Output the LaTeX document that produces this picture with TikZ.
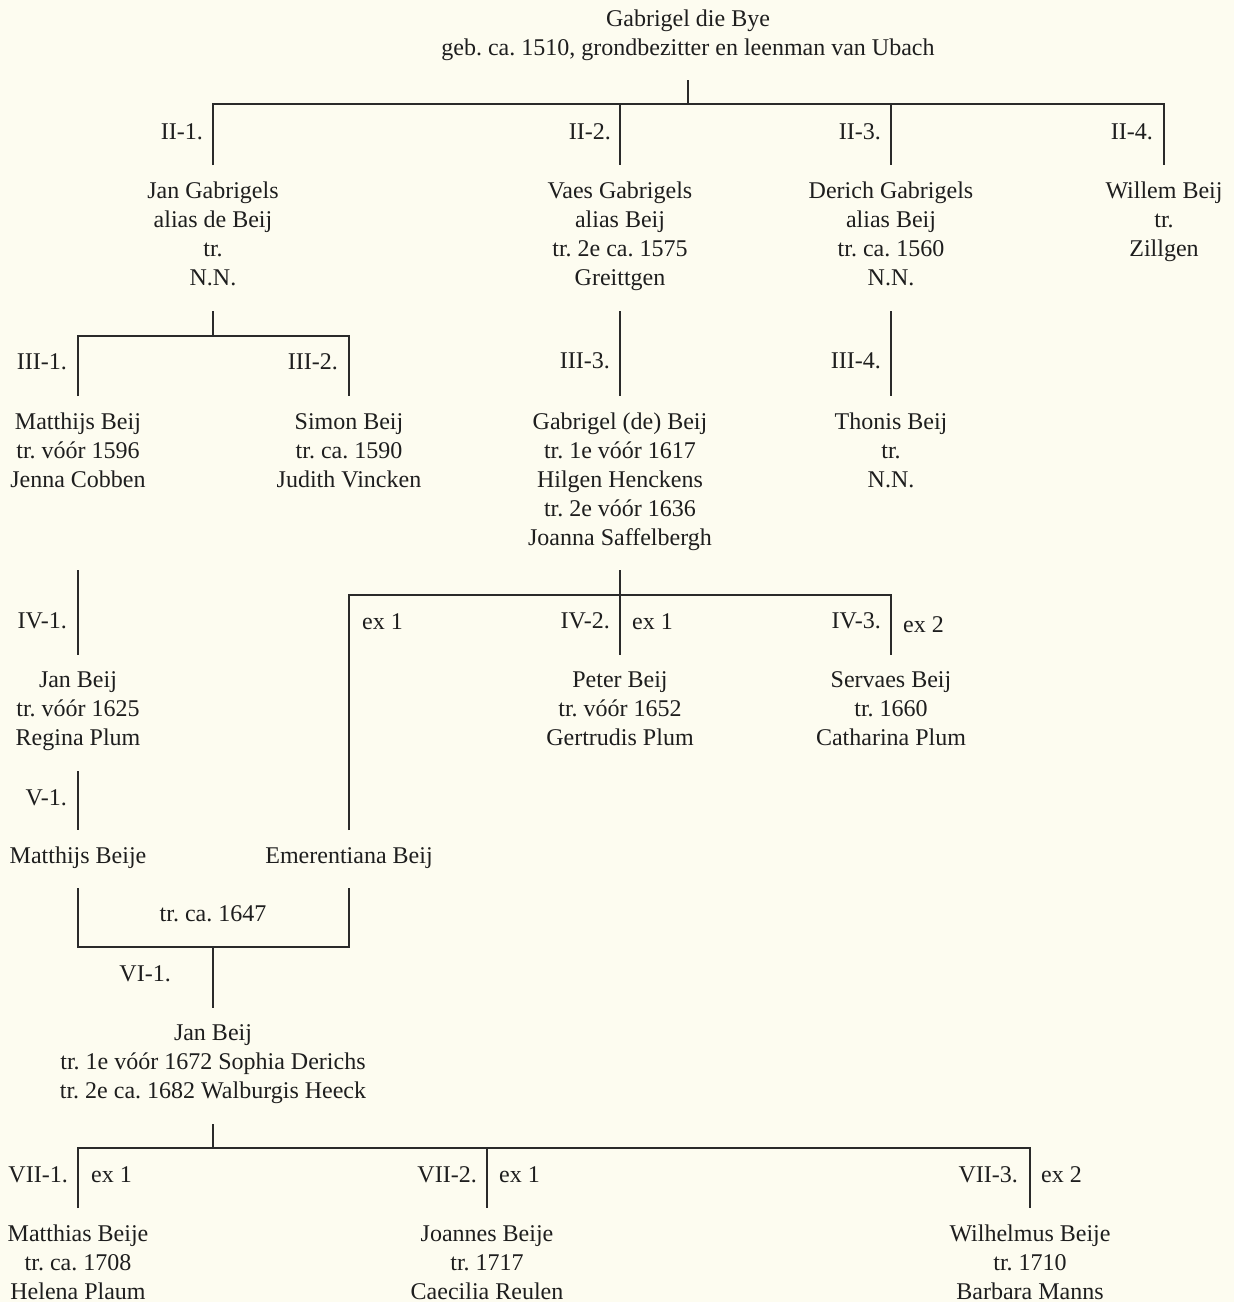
\documentclass[tikz,border=0pt]{standalone}
\usepackage{fontspec}
\setmainfont{Liberation Serif}
\frenchspacing
\definecolor{bgc}{HTML}{FDFCF0}
\definecolor{txc}{HTML}{1E1E1E}
\definecolor{lnc}{HTML}{2A2A2A}
\tikzset{
  person/.style={align=center, anchor=base, inner sep=0pt, text=txc, font=\fontsize{24}{29}\selectfont\frenchspacing},
  genlabel/.style={anchor=base east, inner sep=0pt, text=txc, font=\fontsize{24}{29}\selectfont},
  exlabel/.style={anchor=base west, inner sep=0pt, text=txc, font=\fontsize{24}{29}\selectfont},
  tl/.style={draw=lnc, line width=1.2pt}
}
\begin{document}
\begin{tikzpicture}[x=1pt, y=-1pt]
\fill[bgc] (0,0) rectangle (1234,1302);
\useasboundingbox (0,0) rectangle (1234,1302);

% persons (anchor = baseline of the last line)
\node[person] (root) at (688,55) {Gabrigel die Bye\\geb. ca. 1510, grondbezitter en leenman van Ubach};
\node[person] (n21) at (213,285) {Jan Gabrigels\\alias de Beij\\tr.\\N.N.};
\node[person] (n22) at (620,285) {Vaes Gabrigels\\alias Beij\\tr. 2e ca. 1575\\Greittgen};
\node[person] (n23) at (891,285) {Derich Gabrigels\\alias Beij\\tr. ca. 1560\\N.N.};
\node[person] (n24) at (1164,256) {Willem Beij\\tr.\\Zillgen};
\node[person] (n31) at (78,487) {Matthijs Beij\\tr. vóór 1596\\Jenna Cobben};
\node[person] (n32) at (349,487) {Simon Beij\\tr. ca. 1590\\Judith Vincken};
\node[person] (n33) at (620,545) {Gabrigel (de) Beij\\tr. 1e vóór 1617\\Hilgen Henckens\\tr. 2e vóór 1636\\Joanna Saffelbergh};
\node[person] (n34) at (891,487) {Thonis Beij\\tr.\\N.N.};
\node[person] (n41) at (78,745) {Jan Beij\\tr. vóór 1625\\Regina Plum};
\node[person] (n42) at (620,745) {Peter Beij\\tr. vóór 1652\\Gertrudis Plum};
\node[person] (n43) at (891,745) {Servaes Beij\\tr. 1660\\Catharina Plum};
\node[person] (n51) at (78,863) {Matthijs Beije};
\node[person] (n52) at (349,863) {Emerentiana Beij};
\node[person] (m56) at (213,921) {tr. ca. 1647};
\node[person] (n61) at (213,1098) {Jan Beij\\tr. 1e vóór 1672 Sophia Derichs\\tr. 2e ca. 1682 Walburgis Heeck};
\node[person] (n71) at (78,1299) {Matthias Beije\\tr. ca. 1708\\Helena Plaum};
\node[person] (n72) at (487,1299) {Joannes Beije\\tr. 1717\\Caecilia Reulen};
\node[person] (n73) at (1030,1299) {Wilhelmus Beije\\tr. 1710\\Barbara Manns};

% generation labels
\node[genlabel] (l21) at (203,139) {II-1.};
\node[genlabel] (l22) at (611,139) {II-2.};
\node[genlabel] (l23) at (881,139) {II-3.};
\node[genlabel] (l24) at (1153,139) {II-4.};
\node[genlabel] (l31) at (67,369) {III-1.};
\node[genlabel] (l32) at (338,369) {III-2.};
\node[genlabel] (l33) at (610,368) {III-3.};
\node[genlabel] (l34) at (881,368) {III-4.};
\node[genlabel] (l41) at (67,628) {IV-1.};
\node[genlabel] (l42) at (610,628) {IV-2.};
\node[genlabel] (l43) at (881,628) {IV-3.};
\node[genlabel] (l51) at (67,805) {V-1.};
\node[genlabel] (l61) at (171,981) {VI-1.};
\node[genlabel] (l71) at (68,1182) {VII-1.};
\node[genlabel] (l72) at (477,1182) {VII-2.};
\node[genlabel] (l73) at (1018,1182) {VII-3.};
\node[exlabel] (x1) at (362,629) {ex 1};
\node[exlabel] (x2) at (632,629) {ex 1};
\node[exlabel] (x3) at (903,632) {ex 2};
\node[exlabel] (x4) at (91,1182) {ex 1};
\node[exlabel] (x5) at (499,1182) {ex 1};
\node[exlabel] (x6) at (1041,1182) {ex 2};

% connector levels
\coordinate (s1) at (0,80);
\coordinate (bar1) at (688,104);
\coordinate (e2) at (0,165);
\coordinate (s2) at (0,311);
\coordinate (bar2) at (213,336);
\coordinate (e3) at (0,396);
\coordinate (s3) at (0,570);
\coordinate (bar3) at (620,595);
\coordinate (e4) at (0,655);
\coordinate (s4) at (0,771);
\coordinate (e5) at (0,830);
\coordinate (s5) at (0,888);
\coordinate (bar5) at (213,947);
\coordinate (e6) at (0,1008);
\coordinate (s6) at (0,1124);
\coordinate (bar6) at (213,1148);
\coordinate (e7) at (0,1208);

% I -> II
\draw[tl] (root |- s1) -- (bar1);
\draw[tl] (n21 |- e2) -- (n21 |- bar1) -- (n24 |- bar1) -- (n24 |- e2);
\draw[tl] (n22 |- bar1) -- (n22 |- e2);
\draw[tl] (n23 |- bar1) -- (n23 |- e2);
% II -> III
\draw[tl] (n21 |- s2) -- (bar2);
\draw[tl] (n31 |- e3) -- (n31 |- bar2) -- (n32 |- bar2) -- (n32 |- e3);
\draw[tl] (n22 |- s2) -- (n33 |- e3);
\draw[tl] (n23 |- s2) -- (n34 |- e3);
% III -> IV
\draw[tl] (n31 |- s3) -- (n41 |- e4);
\draw[tl] (n33 |- s3) -- (bar3);
\draw[tl] (n52 |- e5) -- (n52 |- bar3) -- (n43 |- bar3) -- (n43 |- e4);
\draw[tl] (n42 |- bar3) -- (n42 |- e4);
% IV -> V
\draw[tl] (n41 |- s4) -- (n51 |- e5);
% V -> VI
\draw[tl] (n51 |- s5) -- (n51 |- bar5) -- (n52 |- bar5) -- (n52 |- s5);
\draw[tl] (bar5) -- (n61 |- e6);
% VI -> VII
\draw[tl] (n61 |- s6) -- (bar6);
\draw[tl] (n71 |- e7) -- (n71 |- bar6) -- (n73 |- bar6) -- (n73 |- e7);
\draw[tl] (n72 |- bar6) -- (n72 |- e7);
\end{tikzpicture}
\end{document}
